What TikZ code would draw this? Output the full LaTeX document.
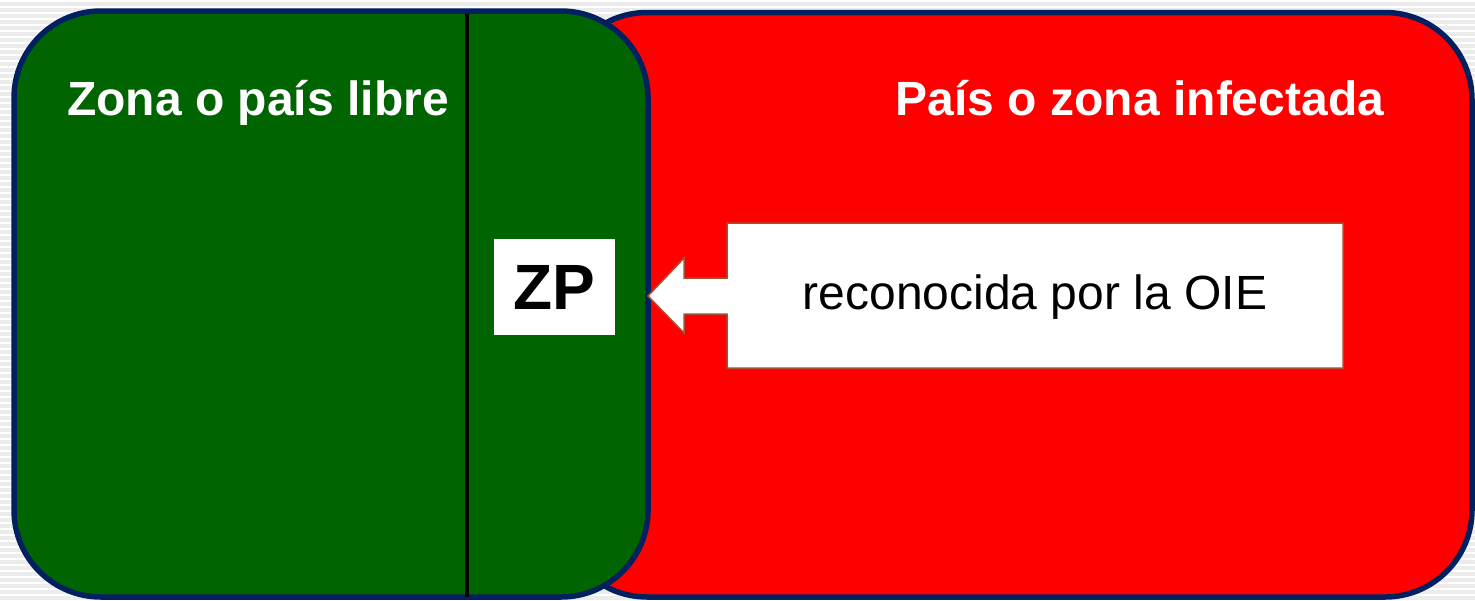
\documentclass[tikz,border=0pt]{standalone}
\usepackage{fontspec}
\setmainfont{Liberation Sans}
\usepackage{tikz}
\definecolor{back_gray}{RGB}{236,236,236}
\definecolor{zone_green}{RGB}{0,100,0}
\definecolor{zone_red}{RGB}{255,0,0}
\definecolor{edge_navy}{RGB}{0,32,96}
\definecolor{edge_brown}{RGB}{170,80,50}

\begin{document}
\begin{tikzpicture}[x=1pt,y=-1pt]
    \tikzstyle{zone}=[draw=edge_navy, line width=5.5pt, rounded corners=87pt]
    \tikzstyle{title}=[text=white, anchor=base, font=\fontsize{48}{48}\selectfont\bfseries]
    \tikzstyle{tag}=[fill=white, inner sep=0pt, minimum width=121pt, minimum height=96pt, text=black, font=\fontsize{64}{64}\selectfont\bfseries]
    \tikzstyle{note}=[inner sep=0pt, text=black, font=\fontsize{48}{48}\selectfont]

    \useasboundingbox (0,0) rectangle (1475,600);
    % striped backdrop
    \fill[back_gray] (0,0) rectangle (1475,600);
    \foreach \y in {1,7,...,600}
      \draw[white, line width=2pt] (0,\y) -- (1475,\y);

    % the two zones
    \draw[zone, fill=zone_red]   (560,12.5) rectangle (1472,597);
    \draw[zone, fill=zone_green] (14,11)    rectangle (648,597);
    \draw[black, line width=4.5pt] (467,13.5) -- (467,597);

    \node[title] (libre)      at (258,115)  {Zona o país libre};
    \node[title] (infectada)  at (1140,115) {País o zona infectada};

    \node[tag] (zp) at (554.5,287) {ZP};

    % callout with arrow pointing at the ZP
    \draw[edge_brown, line width=1.5pt, fill=white]
      (727,223) -- (1343,223) -- (1343,368) -- (727,368) -- (727,314)
      -- (684,314) -- (684,333) -- (648,296) -- (684,258) -- (684,278)
      -- (727,278) -- cycle;
    \node[note] (oie) at (1035,297) {reconocida por la OIE};
\end{tikzpicture}
\end{document}
